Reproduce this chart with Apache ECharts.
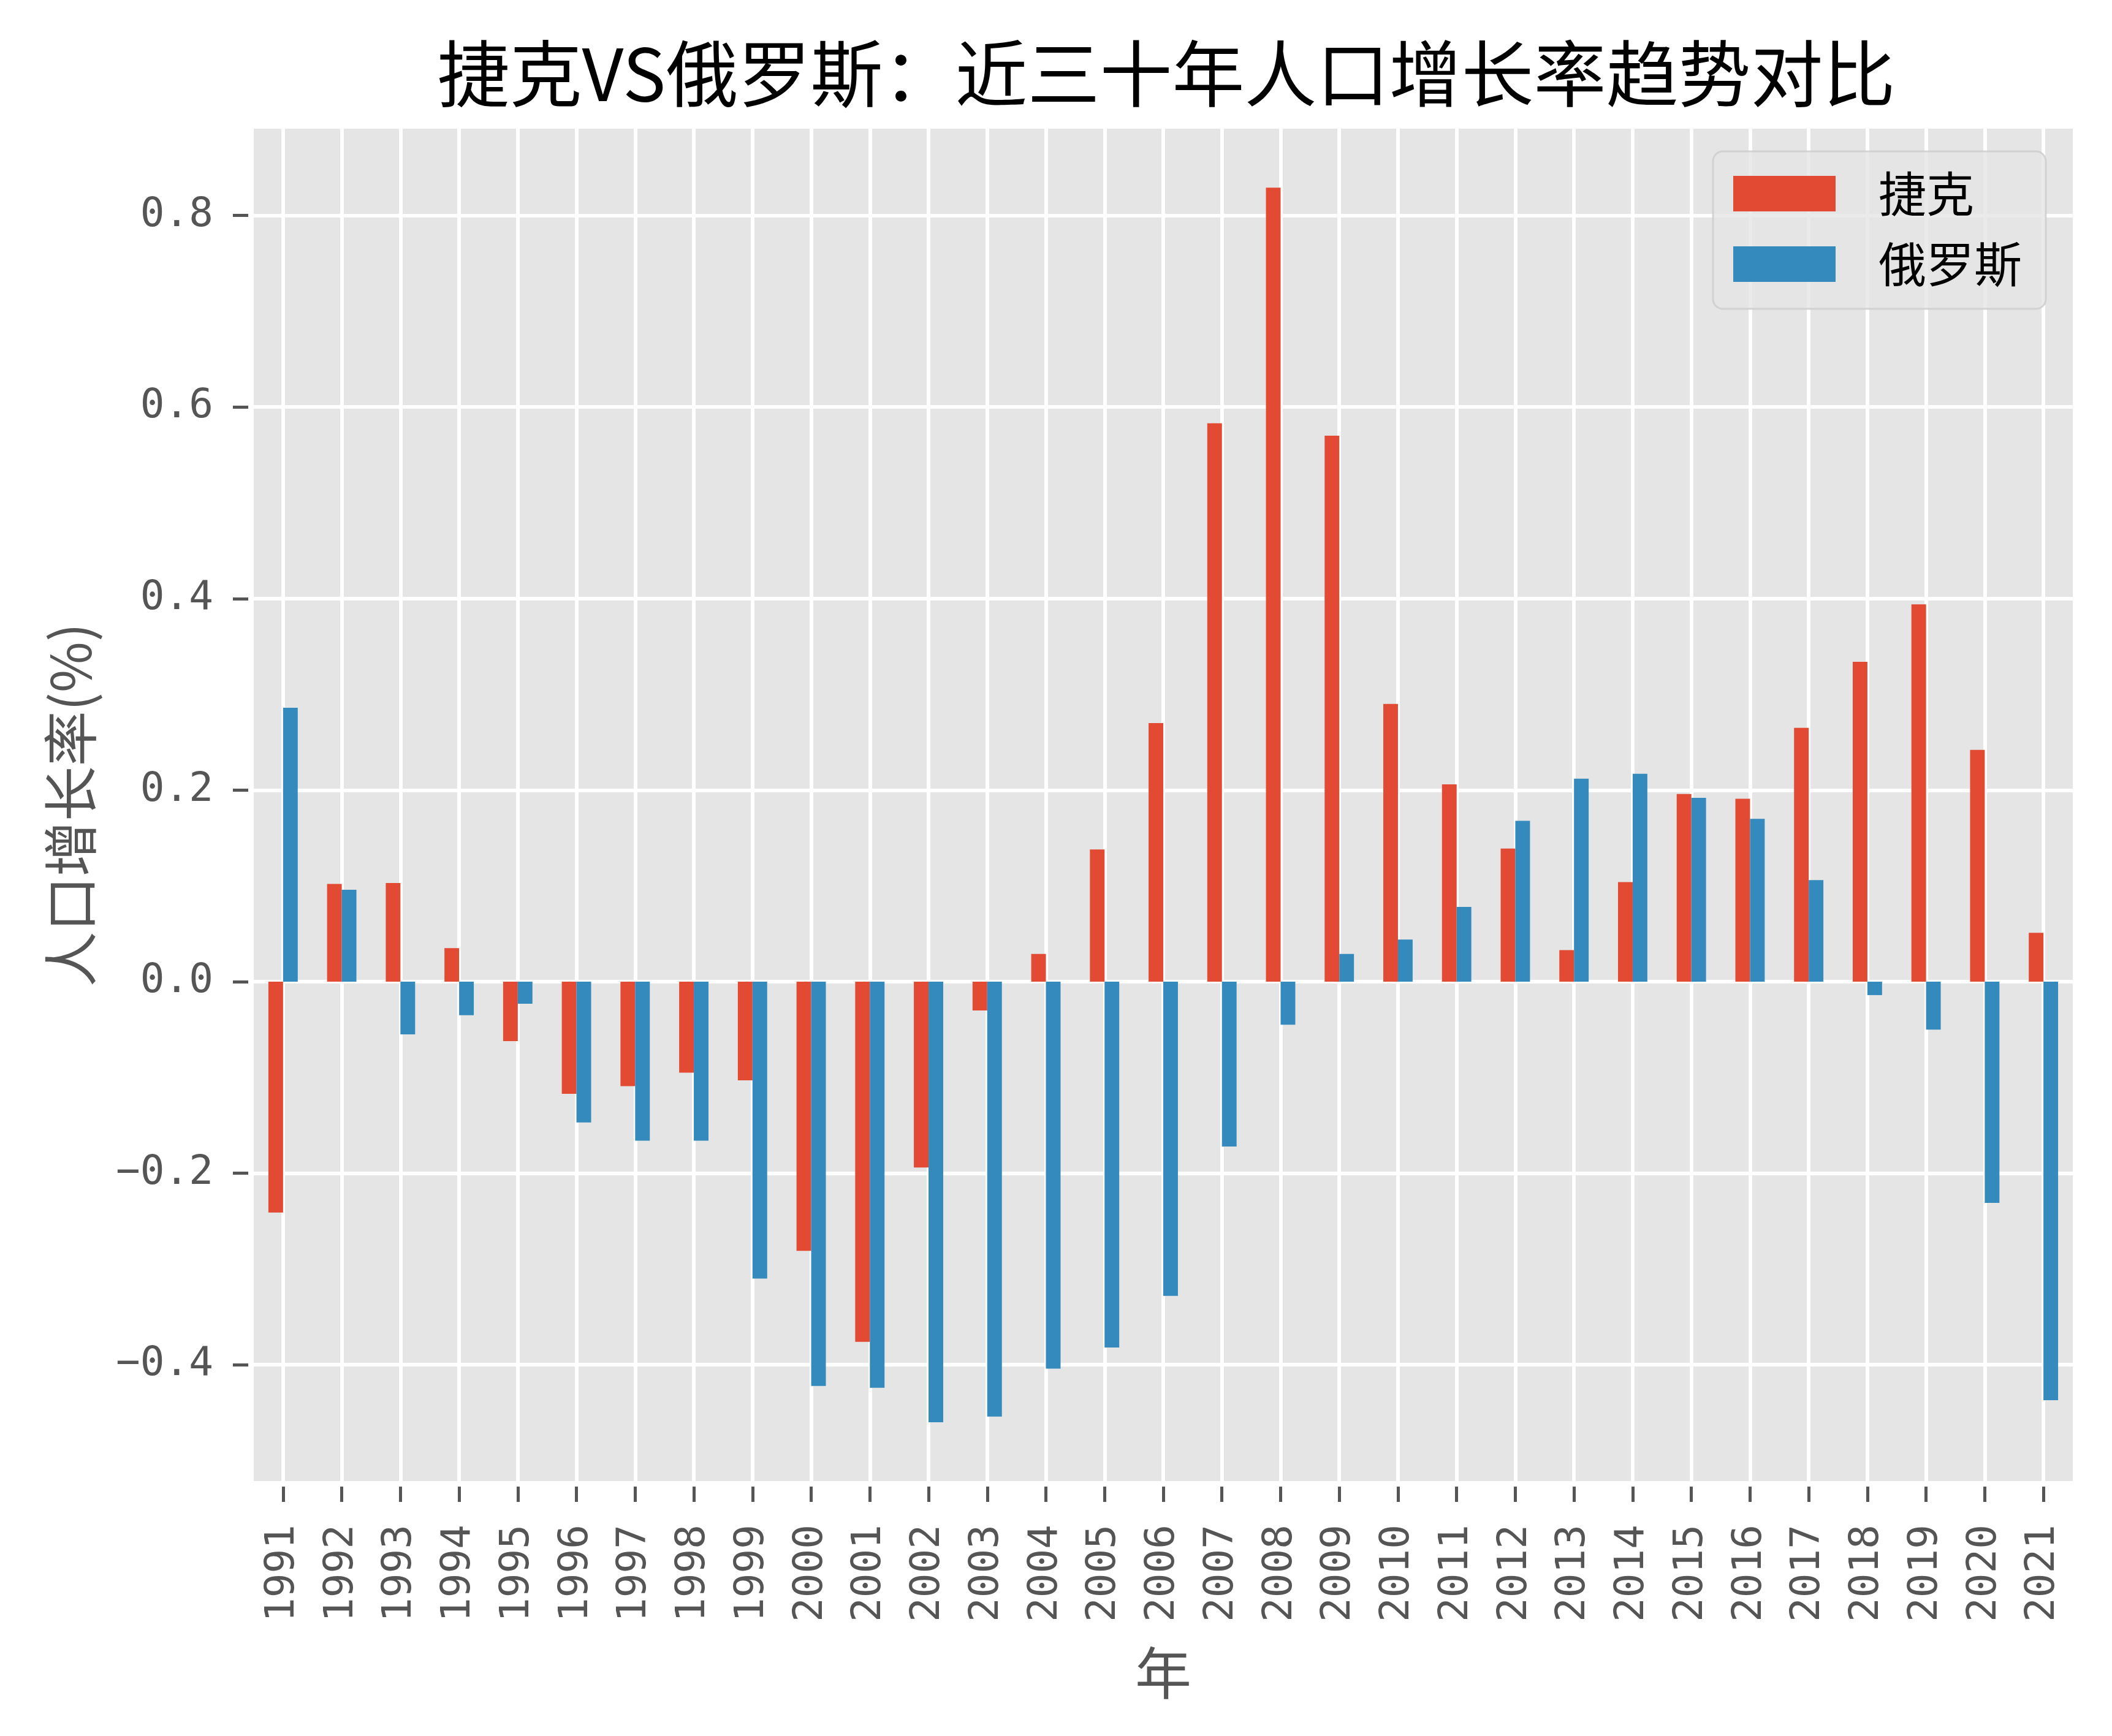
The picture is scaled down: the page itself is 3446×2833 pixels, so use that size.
<!DOCTYPE html>
<html>
<head>
<meta charset="utf-8">
<script src="https://cdn.jsdelivr.net/npm/echarts@6/dist/echarts.min.js"></script>
<style>
  html, body { margin: 0; padding: 0; background: #ffffff; }
  #chart { width: 3446px; height: 2833px; }
</style>
</head>
<body>
<div id="chart"></div>
<script>
const years = ['1991','1992','1993','1994','1995','1996','1997','1998','1999','2000',
  '2001','2002','2003','2004','2005','2006','2007','2008','2009','2010',
  '2011','2012','2013','2014','2015','2016','2017','2018','2019','2020','2021'];
const czech = [-0.241, 0.102, 0.103, 0.035, -0.062, -0.117, -0.109, -0.095, -0.103, -0.281,
  -0.376, -0.194, -0.030, 0.029, 0.138, 0.270, 0.583, 0.829, 0.570, 0.290,
  0.206, 0.139, 0.033, 0.104, 0.196, 0.191, 0.265, 0.334, 0.394, 0.242, 0.051];
const russia = [0.286, 0.096, -0.055, -0.035, -0.023, -0.147, -0.166, -0.166, -0.310, -0.422,
  -0.424, -0.460, -0.454, -0.404, -0.382, -0.328, -0.172, -0.045, 0.029, 0.044,
  0.078, 0.168, 0.212, 0.217, 0.192, 0.170, 0.106, -0.014, -0.050, -0.231, -0.437];
const yTicks = [-0.4, -0.2, 0.0, 0.2, 0.4, 0.6, 0.8];
const seriesNames = ['捷克', '俄罗斯'];
const titleText = '捷克VS俄罗斯：近三十年人口增长率趋势对比';
const xName = '年';
const yName = '人口增长率(%)';

const chart = echarts.init(document.getElementById('chart'), null, { renderer: 'canvas' });
const tickFont = 'DejaVu Sans Mono';
const cjkFont = '"Noto Sans CJK SC", "Noto Sans", sans-serif';

const option = {
  backgroundColor: '#ffffff',
  animation: false,
  title: {
    text: titleText,
    left: 1898,
    textAlign: 'center',
    top: 56,
    textStyle: { fontFamily: cjkFont, fontSize: 118, fontWeight: 'normal', color: '#000000' }
  },
  legend: {
    orient: 'vertical',
    left: 2795,
    top: 247,
    padding: [30, 39, 34, 33],
    itemGap: 37,
    itemWidth: 167,
    itemHeight: 58,
    icon: 'rect',
    backgroundColor: 'rgba(229,229,229,0.8)',
    borderColor: 'rgba(204,204,204,0.8)',
    borderWidth: 3,
    borderRadius: 16,
    textStyle: { fontFamily: cjkFont, fontSize: 78, color: '#000000', padding: [0, 0, 0, 65] },
    data: seriesNames
  },
  grid: {
    left: 414,
    right: 64,
    top: 210,
    bottom: 416,
    show: true,
    backgroundColor: '#E5E5E5',
    borderWidth: 0,
    containLabel: false,
    outerBoundsMode: 'none'
  },
  xAxis: {
    type: 'category',
    data: years,
    boundaryGap: true,
    offset: 9,
    name: xName,
    nameLocation: 'middle',
    nameGap: 258,
    nameTextStyle: { fontFamily: cjkFont, fontSize: 92, color: '#555555' },
    axisLine: { show: false, onZero: false },
    axisTick: { show: true, alignWithLabel: true, interval: 0, length: 25,
      lineStyle: { color: '#555555', width: 5 } },
    axisLabel: { interval: 0, rotate: 90, margin: 62, fontFamily: tickFont, fontSize: 66, color: '#555555' },
    splitLine: { show: true, interval: 0, alignWithLabel: true, lineStyle: { color: '#ffffff', width: 6 } }
  },
  yAxis: {
    type: 'value',
    min: -0.5214,
    max: 0.8906,
    offset: 9,
    name: yName,
    nameLocation: 'middle',
    nameRotate: 90,
    nameGap: 245,
    nameTextStyle: { fontFamily: cjkFont, fontSize: 90, color: '#555555' },
    axisLine: { show: false, onZero: false },
    axisTick: { show: true, length: 25, customValues: yTicks, lineStyle: { color: '#555555', width: 5 } },
    axisLabel: {
      customValues: yTicks,
      margin: 57,
      fontFamily: tickFont,
      fontSize: 66,
      color: '#555555',
      formatter: function (v) { return (v < 0 ? '\u2212' : '') + Math.abs(v).toFixed(1); }
    },
    splitLine: { show: true, lineStyle: { color: '#ffffff', width: 6 } }
  },
  series: [
    {
      name: seriesNames[0],
      type: 'bar',
      data: czech,
      barWidth: '25%',
      barGap: '0%',
      itemStyle: { color: '#E24A33' }
    },
    {
      name: seriesNames[1],
      type: 'bar',
      data: russia,
      barWidth: '25%',
      barGap: '0%',
      itemStyle: { color: '#348ABD' }
    }
  ]
};
chart.setOption(option);
</script>
</body>
</html>
